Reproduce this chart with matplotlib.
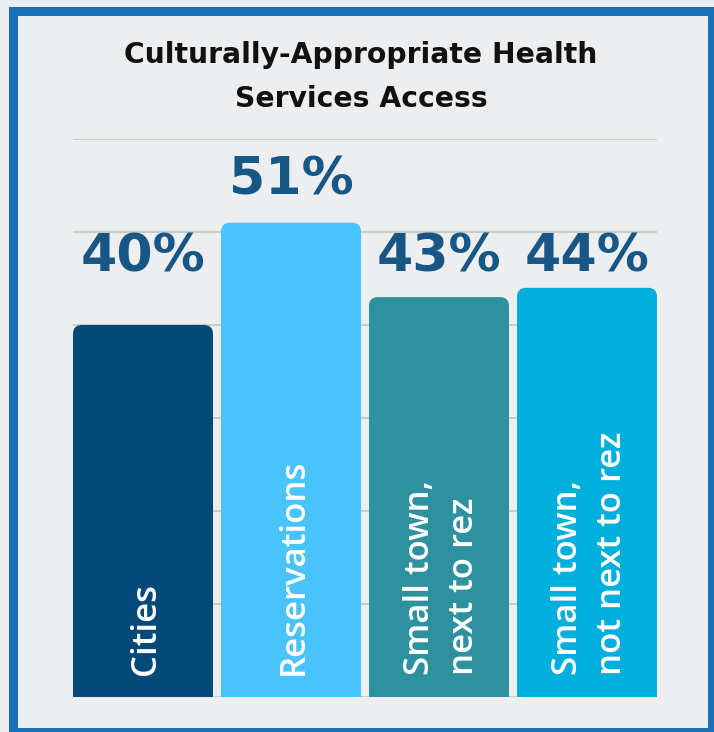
import numpy as np
import matplotlib
matplotlib.use('Agg')
from matplotlib import pyplot as plt
from matplotlib.patches import FancyBboxPatch, Rectangle

# survey results
categories = ['Cities', 'Reservations', 'Small town,\nnext to rez', 'Small town,\nnot next to rez']
values = np.array([40, 51, 43, 44])
bar_colors = ['#034a7b', '#4ac2fa', '#2e919f', '#01afdc']
title_lines = ['Culturally-Appropriate Health', 'Services Access']

W, H = 714, 732
fig = plt.figure(figsize=(W / 100, H / 100), dpi=100)
fig.patch.set_facecolor('#edeeef')

# plot area in pixels: x 73..657, y baseline 697, top gridline 139
ax = fig.add_axes([73 / W, (H - 697) / H, 584 / W, (697 - 139) / H])
ax.set_facecolor('none')
n = len(values)
bw = 0.946
ax.set_xlim(-bw / 2, n - 1 + bw / 2)
ax.set_ylim(0, 60)
for s in ax.spines.values():
    s.set_visible(False)
ax.set_xticks([])
ax.set_yticks([])
for g in range(0, 61, 10):
    ax.axhline(g, color='#c9c9c9', lw=1.4, zorder=0)

# bars with rounded tops
px_x = 584 / (n - 1 + bw)
px_y = (697 - 139) / 60
aspect = px_x / px_y
rad = 9 / px_x
for i, (v, c) in enumerate(zip(values, bar_colors)):
    x0 = i - bw / 2
    ax.add_patch(FancyBboxPatch((x0, 0), bw, v,
                                boxstyle='round,pad=0,rounding_size=%f' % rad,
                                mutation_aspect=aspect, fc=c, ec='none', zorder=2))
    ax.add_patch(Rectangle((x0, 0), bw, v / 2, fc=c, ec='none', zorder=2))

# value labels: a common row, lifted above any bar that reaches it
label_y = np.where(values > 46, values + 3, 45.7)
for i, v in enumerate(values):
    ax.text(i, label_y[i], '%d%%' % v, ha='center', va='baseline',
            fontsize=37.5, fontweight='bold', color='#185685',
            family='DejaVu Sans', zorder=3, clip_on=False)

# category names inside the bars
for i, name in enumerate(categories):
    ax.text(i + 0.02, 2.37, name, rotation=90, ha='center', va='bottom',
            multialignment='left', linespacing=1.4,
            fontsize=25, fontweight='semibold', family='Open Sans',
            color='white', zorder=3)

# title
fig.text(361 / W, 1 - 63 / H, title_lines[0], ha='center', va='baseline',
         fontsize=20.3, fontweight='bold', family='DejaVu Sans', color='#111111')
fig.text(361 / W, 1 - 107 / H, title_lines[1], ha='center', va='baseline',
         fontsize=20.3, fontweight='bold', family='DejaVu Sans', color='#111111')

# blue frame
frame = Rectangle((13.5 / W, 0), (712 - 13.5) / W, (H - 10.5) / H,
                  transform=fig.transFigure, fill=False,
                  ec='#1b6fb3', lw=6.5, zorder=10)
fig.patches.append(frame)

fig.savefig('out.png', dpi=100, facecolor=fig.get_facecolor())
